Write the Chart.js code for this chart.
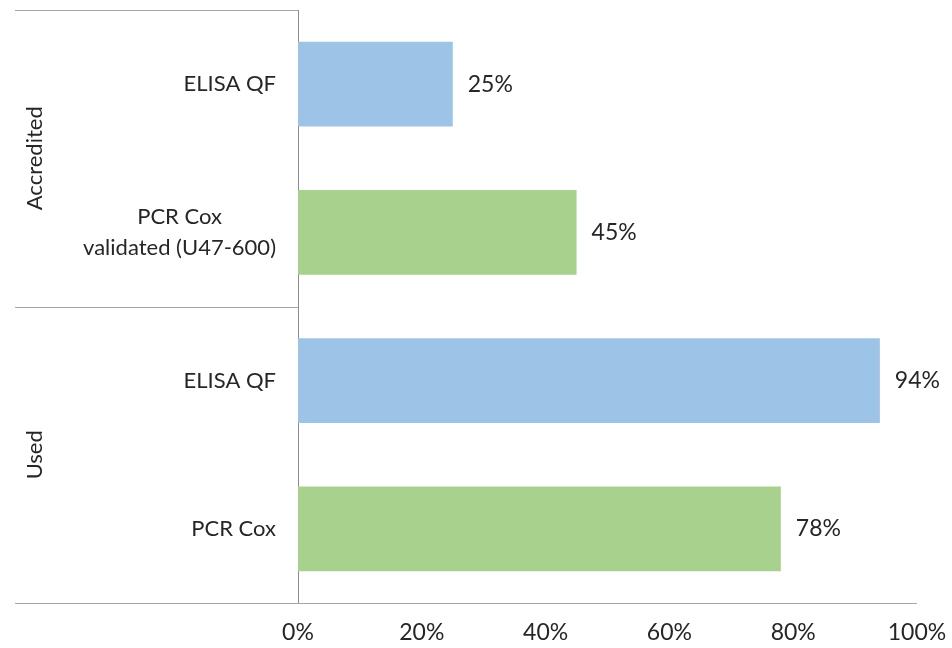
<!DOCTYPE html>
<html>
<head>
<meta charset="utf-8">
<script src="https://cdn.jsdelivr.net/npm/chart.js@4.4.1/dist/chart.umd.min.js"></script>
<style>
    html, body { margin: 0; padding: 0; background: #fff; }
    #wrap { width: 952px; height: 648px; }
</style>
</head>
<body>
<div id="wrap"><canvas id="chart"></canvas></div>
<script>
// Data
const categories = [['ELISA QF'], ['PCR Cox', 'validated (U47-600)'], ['ELISA QF'], ['PCR Cox']];
const groups = ['Accredited', 'Used'];
const groupSizes = [2, 2];
const values = [25, 45, 94, 78];
const barColors = ['#9dc3e6', '#a9d18e', '#9dc3e6', '#a9d18e'];
const xTicks = [0, 20, 40, 60, 80, 100];

const FONT = 'Lato, "Noto Sans", sans-serif';
const TEXT = '#262626';

// Draws category labels, group labels, separator lines and value labels
const groupPlugin = {
    id: 'groupPlugin',
    afterDraw(chart) {
        const ctx = chart.ctx;
        const y = chart.scales.y;
        const area = chart.chartArea;
        const leftEdge = 15;

        ctx.save();
        // horizontal lines
        ctx.strokeStyle = '#a6a6a6';
        ctx.lineWidth = 1;
        ctx.beginPath();
        ctx.moveTo(leftEdge, area.top + 0.5);
        ctx.lineTo(area.left, area.top + 0.5);
        let idx = 0;
        for (let g = 0; g < groups.length - 1; g++) {
            idx += groupSizes[g];
            const yy = Math.round((y.getPixelForValue(idx - 1) + y.getPixelForValue(idx)) / 2) + 0.5;
            ctx.moveTo(leftEdge, yy);
            ctx.lineTo(area.left, yy);
        }
        ctx.moveTo(leftEdge, area.bottom + 0.5);
        ctx.lineTo(area.right, area.bottom + 0.5);
        ctx.stroke();

        // category labels: block right aligned, lines centered within block
        ctx.font = '22px ' + FONT;
        ctx.fillStyle = TEXT;
        ctx.textBaseline = 'middle';
        ctx.textAlign = 'center';
        const lineH = 31;
        categories.forEach((lines, i) => {
            const cy = y.getPixelForValue(i);
            const w = Math.max(...lines.map(l => ctx.measureText(l).width));
            const cx = area.left - 22 - w / 2;
            lines.forEach((l, k) => {
                ctx.fillText(l, cx, cy + (k - (lines.length - 1) / 2) * lineH);
            });
        });

        // group labels
        let start = 0;
        groups.forEach((name, g) => {
            const end = start + groupSizes[g] - 1;
            const top = start === 0 ? area.top : (y.getPixelForValue(start - 1) + y.getPixelForValue(start)) / 2;
            const bottom = end === categories.length - 1 ? area.bottom : (y.getPixelForValue(end) + y.getPixelForValue(end + 1)) / 2;
            ctx.save();
            ctx.translate(35, (top + bottom) / 2);
            ctx.rotate(-Math.PI / 2);
            ctx.fillText(name, 0, 0);
            ctx.restore();
            start = end + 1;
        });

        // value labels
        ctx.font = '23px ' + FONT;
        ctx.textAlign = 'left';
        chart.getDatasetMeta(0).data.forEach((bar, i) => {
            ctx.fillText(values[i] + '%', bar.x + 15, bar.y);
        });
        ctx.restore();
    }
};

new Chart(document.getElementById('chart'), {
    type: 'bar',
    data: {
        labels: categories.map(c => c.join(' ')),
        datasets: [{
            data: values,
            backgroundColor: barColors,
            borderWidth: 0,
            categoryPercentage: 1,
            barPercentage: 0.57
        }]
    },
    options: {
        indexAxis: 'y',
        responsive: true,
        maintainAspectRatio: false,
        animation: false,
        layout: { padding: { top: 10, right: 35, left: 0, bottom: 0 } },
        plugins: {
            legend: { display: false },
            tooltip: { enabled: false }
        },
        scales: {
            x: {
                min: 0,
                max: 100,
                afterBuildTicks: scale => { scale.ticks = xTicks.map(v => ({ value: v })); },
                afterFit: scale => {
                    scale.height = 45;
                    scale.paddingLeft = 0;
                    scale.paddingRight = 0;
                },
                grid: { display: false, drawTicks: false },
                border: { display: false },
                ticks: {
                    color: TEXT,
                    font: { family: FONT, size: 23 },
                    padding: 16,
                    callback: v => v + '%'
                }
            },
            y: {
                afterFit: scale => { scale.width = 298; },
                grid: { display: false, drawTicks: false },
                border: { display: true, color: '#8c8c8c', width: 1 },
                ticks: { display: false }
            }
        }
    },
    plugins: [groupPlugin]
});
</script>
</body>
</html>
